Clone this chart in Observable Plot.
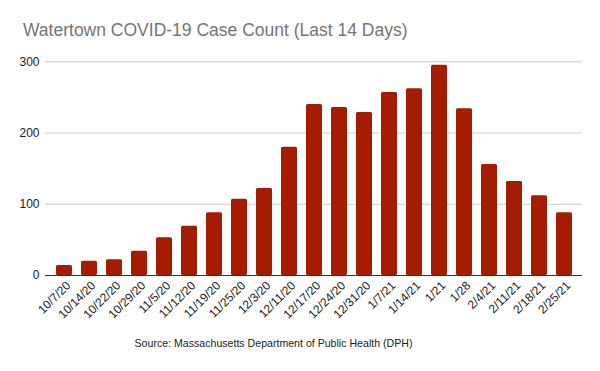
<!DOCTYPE html>
<html>
<head>
<meta charset="utf-8">
<script src="https://cdn.jsdelivr.net/npm/d3@7"></script>
<script src="https://cdn.jsdelivr.net/npm/@observablehq/plot@0.6"></script>
<style>
  html, body { margin: 0; padding: 0; background: #fff; }
  #wrap { position: relative; width: 600px; height: 371px; font-family: "Liberation Sans", Arial, sans-serif; }
  #title { position: absolute; left: 23px; top: 20px; font-size: 17.5px; color: #757575; white-space: nowrap; }
  #caption { position: absolute; left: 0; width: 547px; text-align: center; top: 337px; font-size: 10.6px; color: #222; white-space: nowrap; }
  #chart { position: absolute; left: 0; top: 0; }
</style>
</head>
<body>
<div id="wrap">
  <div id="chart"></div>
  <div id="title">Watertown COVID-19 Case Count (Last 14 Days)</div>
  <div id="caption">Source: Massachusetts Department of Public Health (DPH)</div>
</div>
<script>
const dates = ["10/7/20","10/14/20","10/22/20","10/29/20","11/5/20","11/12/20","11/19/20","11/25/20","12/3/20","12/11/20","12/17/20","12/24/20","12/31/20","1/7/21","1/14/21","1/21","1/28","2/4/21","2/11/21","2/18/21","2/25/21"];
const cases = [14, 20, 22, 34, 53, 69, 88, 107, 122, 180, 240, 236, 229, 257, 262, 295, 234, 156, 132, 112, 88];
const yTicks = [0, 100, 200, 300];

const data = dates.map((d, i) => ({date: d, cases: cases[i]}));

const chart = Plot.plot({
  width: 600,
  height: 371,
  marginLeft: 45,
  marginRight: 18,
  marginTop: 61.3,
  marginBottom: 96,
  style: {fontFamily: "'Liberation Sans', Arial, sans-serif", fontSize: "12px", color: "#222", background: "#fff"},
  x: {domain: dates, paddingInner: 0.36, paddingOuter: 0.365, label: null},
  y: {domain: [0, 300], label: null},
  marks: [
    Plot.gridY(yTicks, {stroke: "#ccc", strokeOpacity: 1}),
    Plot.barY(data, {x: "date", y: "cases", fill: "#a61c00", rx: 1.5}),
    Plot.ruleY([0], {stroke: "#333", strokeWidth: 1}),
    Plot.axisY(yTicks, {tickSize: 0, tickPadding: 6, fontSize: 12, label: null}),
    Plot.axisX({tickSize: 0, tickPadding: 8, tickRotate: -45, fontSize: 12, dx: 4, label: null})
  ]
});
document.getElementById("chart").appendChild(chart);
</script>
</body>
</html>
